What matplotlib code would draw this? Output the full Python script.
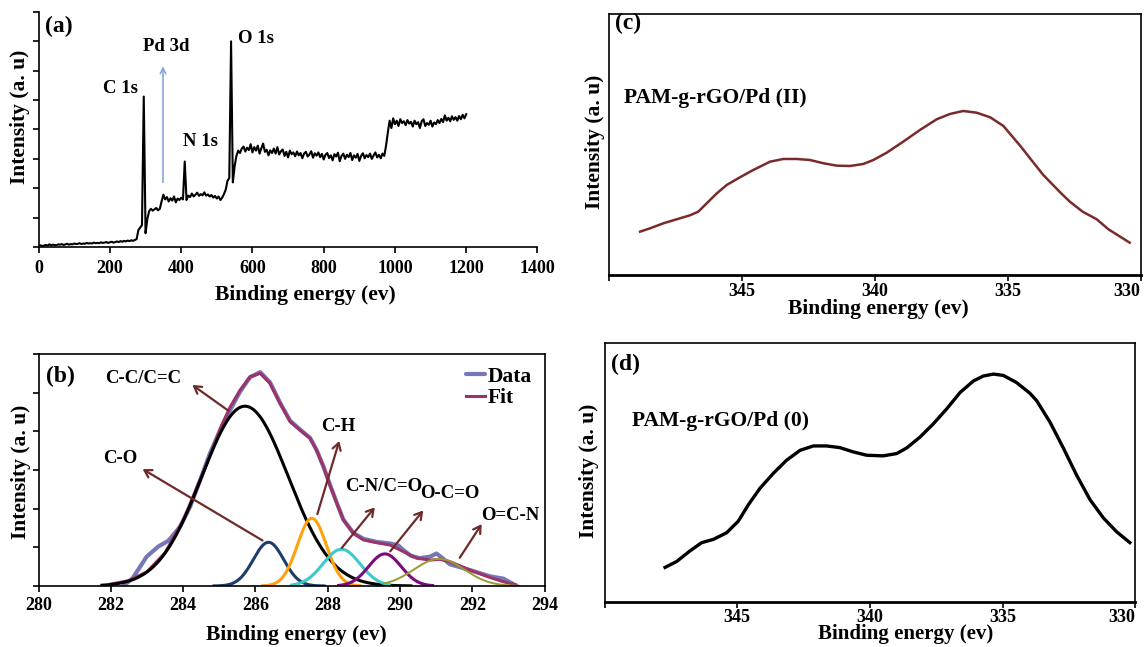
import numpy as np
import matplotlib
matplotlib.use("Agg")
import matplotlib.pyplot as plt

# ---------------- data ----------------
# (a) survey spectrum, 5 eV steps from 0 to 1200 eV (intensity in tick units)
survey_ev = np.arange(0, 1201, 5)
survey_int = [
    0.04, 0.06, 0.03, 0.05, 0.07, 0.05, 0.09, 0.06, 0.08, 0.07,
    0.06, 0.09, 0.08, 0.10, 0.07, 0.09, 0.11, 0.08, 0.10, 0.09,
    0.12, 0.10, 0.11, 0.13, 0.10, 0.12, 0.11, 0.14, 0.12, 0.13,
    0.12, 0.15, 0.13, 0.14, 0.13, 0.16, 0.14, 0.15, 0.17, 0.14,
    0.16, 0.18, 0.15, 0.17, 0.19, 0.17, 0.20, 0.18, 0.21, 0.19,
    0.22, 0.20, 0.23, 0.21, 0.24, 0.27, 0.58, 0.66, 0.75, 5.12,
    0.47, 0.95, 1.22, 1.30, 1.24, 1.28, 1.33, 1.25, 1.30, 1.55,
    1.78, 1.62, 1.70, 1.55, 1.66, 1.58, 1.72, 1.52, 1.65, 1.60,
    1.68, 1.62, 2.91, 1.60, 1.75, 1.70, 1.82, 1.72, 1.78, 1.85,
    1.74, 1.80, 1.76, 1.86, 1.75, 1.79, 1.72, 1.77, 1.68, 1.74,
    1.65, 1.72, 1.60, 1.68, 1.80, 1.95, 2.25, 2.35, 7.00, 2.20,
    2.75, 3.10, 3.28, 3.20, 3.35, 3.42, 3.25, 3.38, 3.30, 3.50,
    3.22, 3.40, 3.28, 3.45, 3.18, 3.36, 3.52, 3.24, 3.31, 3.12,
    3.29, 3.20, 3.35, 3.18, 3.40, 3.15, 3.26, 3.32, 3.10, 3.24,
    3.05, 3.28, 3.16, 3.22, 3.09, 3.25, 3.12, 3.20, 3.02, 3.18,
    3.24, 3.08, 3.15, 3.26, 3.04, 3.19, 3.11, 3.22, 3.06, 3.17,
    2.98, 3.14, 3.20, 3.03, 3.12, 2.95, 3.16, 3.08, 3.21, 2.92,
    3.10, 3.18, 3.00, 3.14, 3.06, 3.20, 2.96, 3.12, 3.04, 3.17,
    2.93, 3.10, 3.19, 3.02, 3.13, 3.06, 3.18, 3.00, 3.12, 3.22,
    3.05, 3.14, 3.02, 3.18, 3.10, 3.45, 3.90, 4.30, 4.05, 4.38,
    4.18, 4.30, 4.12, 4.35, 4.22, 4.28, 4.15, 4.32, 4.20, 4.26,
    4.10, 4.30, 4.18, 4.25, 4.05, 4.28, 4.35, 4.12, 4.22, 4.16,
    4.30, 4.10, 4.24, 4.18, 4.32, 4.22, 4.36, 4.25, 4.48, 4.30,
    4.40, 4.28, 4.45, 4.33, 4.42, 4.30, 4.46, 4.35, 4.50, 4.38,
    4.52,
]
survey_labels = ["C 1s", "Pd 3d", "N 1s", "O 1s"]
survey_label_ev = [231, 357, 455, 610]
survey_label_int = [5.39, 6.82, 3.58, 7.09]

# (b) C 1s high resolution: measured data and fit
c1s_data_ev = [282.34, 282.6, 282.99, 283.31, 283.59, 283.91, 284.19, 284.47, 284.74, 285.02,
               285.30, 285.57, 285.85, 286.13, 286.40, 286.68, 286.96, 287.23, 287.51, 287.69,
               287.88, 288.06, 288.25, 288.43, 288.71, 288.99, 289.35, 289.72, 289.95, 290.09,
               290.3, 290.55, 290.83, 291.01, 291.2, 291.38, 291.94, 292.49, 292.86, 293.23]
c1s_data = [0.0, 0.2, 0.76, 1.02, 1.17, 1.53, 2.05, 2.74, 3.43, 4.03,
            4.55, 5.02, 5.40, 5.53, 5.27, 4.74, 4.27, 4.05, 3.83, 3.52,
            3.09, 2.62, 2.15, 1.72, 1.37, 1.22, 1.14, 1.10, 1.05, 0.93,
            0.78, 0.72, 0.76, 0.84, 0.70, 0.56, 0.41, 0.25, 0.19, 0.0]
c1s_fit_ev = [282.0, 282.5, 283.0, 283.5, 284.0, 284.5, 284.8, 285.06, 285.30, 285.57,
              285.85, 286.13, 286.40, 286.68, 286.96, 287.23, 287.51, 287.69, 287.88, 288.06,
              288.25, 288.43, 288.71, 288.99, 289.35, 289.72, 290.09, 290.46, 290.83, 291.1,
              291.38, 291.94, 292.49, 292.86, 293.2]
c1s_fit = [0.05, 0.14, 0.37, 0.86, 1.70, 2.82, 3.50, 4.15, 4.63, 5.06,
           5.41, 5.50, 5.24, 4.72, 4.25, 4.03, 3.82, 3.51, 3.08, 2.61,
           2.14, 1.71, 1.36, 1.19, 1.12, 1.06, 0.89, 0.72, 0.67, 0.69,
           0.63, 0.41, 0.22, 0.11, 0.03]

# fitted components: centre, height, sigma, drawn range
comp_names = ["C-C/C=C", "C-O", "C-H", "C-N/C=O", "O-C=O", "O=C-N"]
comp_center = [285.71, 286.36, 287.56, 288.38, 289.58, 291.08]
comp_height = [4.65, 1.13, 1.75, 0.95, 0.83, 0.70]
comp_sigma = [1.20, 0.42, 0.40, 0.51, 0.45, 0.70]
comp_lo = [281.75, 284.85, 286.2, 287.0, 288.3, 289.55]
comp_hi = [290.3, 287.9, 288.9, 289.7, 290.9, 293.3]
comp_colors = ["black", "#1d3d6b", "#ffa10a", "#3cc9c9", "#7d0a7d", "#9a9a2e"]

# label text position and arrow (tail -> head)
comp_text_xy = [(282.89, 5.37), (282.25, 3.30), (288.29, 4.12),
                (289.54, 2.57), (291.38, 2.40), (293.04, 1.83)]
comp_arrow_tail = [(285.30, 4.50), (286.26, 1.14), (287.69, 1.79),
                   (288.34, 0.93), (289.68, 0.84), (291.61, 0.67)]
comp_arrow_head = [(284.19, 5.24), (282.81, 3.06), (288.34, 3.82),
                   (289.35, 2.09), (290.69, 2.01), (292.30, 1.66)]

# (c) Pd 3d, PAM-g-rGO/Pd (II)
pd2_ev = [348.83, 348.45, 347.95, 347.45, 346.95, 346.64, 346.32, 345.94, 345.57, 345.07,
          344.57, 343.94, 343.44, 342.94, 342.44, 341.93, 341.43, 340.93, 340.43, 340.05,
          339.55, 338.93, 338.30, 337.67, 337.17, 336.67, 336.17, 335.66, 335.16, 334.50,
          334.16, 333.66, 332.99, 332.66, 332.18, 331.65, 331.21, 330.41]
pd2_int = [43.3, 46.7, 51.7, 55.7, 59.7, 63.3, 71.7, 81.7, 90.0, 97.7,
           105.0, 113.3, 116.0, 116.0, 115.0, 111.7, 109.3, 109.0, 111.0, 115.0,
           122.3, 133.3, 145.0, 155.7, 161.0, 164.0, 162.3, 157.7, 149.0, 128.3,
           116.7, 100.0, 81.7, 73.3, 63.3, 55.7, 45.7, 32.3]

# (d) Pd 3d, PAM-g-rGO/Pd (0)
pd0_ev = [347.72, 347.28, 346.78, 346.34, 345.90, 345.40, 344.96, 344.58, 344.14, 343.64,
          343.14, 342.63, 342.13, 341.63, 341.13, 340.63, 340.12, 339.50, 338.99, 338.61,
          338.11, 337.61, 337.11, 336.60, 336.10, 335.73, 335.35, 334.97, 334.47, 333.97,
          333.71, 333.21, 332.71, 332.21, 331.70, 331.20, 330.70, 330.20]
pd0_int = [35.0, 41.0, 51.7, 60.0, 63.3, 70.0, 81.7, 98.3, 115.0, 130.0,
           143.3, 153.3, 157.7, 157.7, 156.0, 151.7, 148.3, 147.7, 150.0, 155.7,
           166.7, 180.0, 195.0, 211.7, 223.3, 228.3, 230.3, 229.0, 221.7, 211.0,
           203.3, 181.7, 155.7, 128.3, 103.3, 85.0, 71.0, 60.0]

pd_ticks = [350, 345, 340, 335, 330]
pd_ticklabels = ["", "345", "340", "335", "330"]

# ---------------- style ----------------
plt.rcParams["font.family"] = ["Liberation Serif", "DejaVu Serif"]
plt.rcParams["font.weight"] = "bold"
plt.rcParams["axes.labelweight"] = "bold"

LABEL_FS = 15.5
TICK_FS = 13
NOTE_FS = 13.5
PANEL_FS = 17
ARROW_COLOR = "#6e2a2a"

fig = plt.figure(figsize=(11.47, 6.47), dpi=100)


def style_axes(ax, pad):
    ax.tick_params(axis="both", direction="out", length=4, width=1.2,
                   labelsize=TICK_FS, pad=pad)
    for sp in ax.spines.values():
        sp.set_linewidth(1.2)
    ax.xaxis.label.set_va("center")
    ax.yaxis.label.set_va("center")


# ---------------- (a) survey ----------------
ax_a = fig.add_axes([0.0337, 0.6182, 0.4349, 0.3633])
ax_a.plot(survey_ev, survey_int, color="black", lw=1.5)
ax_a.set_xlim(0, 1400)
ax_a.set_ylim(0, 8)
ax_a.set_xticks(np.arange(0, 1401, 200))
ax_a.set_yticks(np.arange(0, 8.01, 1))
ax_a.set_yticklabels([])
ax_a.spines["top"].set_visible(False)
ax_a.spines["right"].set_visible(False)
ax_a.set_xlabel("Binding energy (ev)", fontsize=LABEL_FS)
ax_a.set_ylabel("Intensity (a. u)", fontsize=LABEL_FS)
style_axes(ax_a, pad=5)
ax_a.xaxis.set_label_coords(0.534, -0.204)
ax_a.yaxis.set_label_coords(-0.037, 0.553)
for lab, xv, yv in zip(survey_labels, survey_label_ev, survey_label_int):
    ax_a.text(xv, yv, lab, fontsize=NOTE_FS, ha="center", va="center")
ax_a.annotate("", xy=(349, 6.24), xytext=(349, 2.1),
              arrowprops=dict(arrowstyle="->", color="#7aa3d6", lw=1.1))
ax_a.text(0.012, 0.94, "(a)", transform=ax_a.transAxes, fontsize=PANEL_FS,
          ha="left", va="center")

# ---------------- (b) C 1s ----------------
ax_b = fig.add_axes([0.0337, 0.0943, 0.4411, 0.3586])
ax_b.plot(c1s_data_ev, c1s_data, color="#7777b8", lw=3.0, label="Data",
          solid_capstyle="round")
ax_b.plot(c1s_fit_ev, c1s_fit, color="#9b3468", lw=2.2, label="Fit")
for c, h, s, lo, hi, col in zip(comp_center, comp_height, comp_sigma,
                                comp_lo, comp_hi, comp_colors):
    xs = np.linspace(lo, hi, 300)
    lw = 2.2 if col != "#9a9a2e" else 1.4
    ax_b.plot(xs, h * np.exp(-(xs - c) ** 2 / (2 * s ** 2)), color=col, lw=lw)
for name, txy, tail, head in zip(comp_names, comp_text_xy,
                                 comp_arrow_tail, comp_arrow_head):
    ax_b.text(txy[0], txy[1], name, fontsize=NOTE_FS, ha="center", va="center")
    ax_b.annotate("", xy=head, xytext=tail,
                  arrowprops=dict(arrowstyle="->,head_length=0.5,head_width=0.3",
                                  color=ARROW_COLOR, lw=1.6))
ax_b.set_xlim(280, 294)
ax_b.set_ylim(0, 6)
ax_b.set_xticks(np.arange(280, 295, 2))
ax_b.set_yticks(np.arange(0, 6.01, 1))
ax_b.set_yticklabels([])
ax_b.set_xlabel("Binding energy (ev)", fontsize=LABEL_FS)
ax_b.set_ylabel("Intensity (a. u)", fontsize=LABEL_FS)
style_axes(ax_b, pad=4)
ax_b.xaxis.set_label_coords(0.509, -0.211)
ax_b.yaxis.set_label_coords(-0.034, 0.49)
ax_b.text(0.015, 0.905, "(b)", transform=ax_b.transAxes, fontsize=PANEL_FS,
          ha="left", va="center")
ax_b.legend(loc="upper right", frameon=False,
            handlelength=0.9, handletextpad=0.1, labelspacing=0.05,
            borderaxespad=0.2, prop={"weight": "bold", "size": LABEL_FS})

# ---------------- (c) Pd(II) ----------------
ax_c = fig.add_axes([0.5309, 0.5750, 0.4635, 0.4034])
ax_c.plot(pd2_ev, pd2_int, color="#7a2a2a", lw=1.8)
ax_c.set_xlim(350, 330)
ax_c.set_ylim(0, 261)
ax_c.set_xticks(pd_ticks)
ax_c.set_xticklabels(pd_ticklabels)
ax_c.set_yticks([])
ax_c.set_xlabel("Binding energy (ev)", fontsize=LABEL_FS)
ax_c.set_ylabel("Intensity (a. u)", fontsize=LABEL_FS)
style_axes(ax_c, pad=2)
ax_c.spines["bottom"].set_linewidth(2)
ax_c.get_xticklabels()[-1].set_ha("right")
ax_c.xaxis.set_label_coords(0.506, -0.132)
ax_c.yaxis.set_label_coords(-0.027, 0.51)
ax_c.text(349.79, 251.7, "(c)", fontsize=PANEL_FS, ha="left", va="center")
ax_c.text(349.45, 176.7, "PAM-g-rGO/Pd (II)", fontsize=15.5,
          ha="left", va="center")

# ---------------- (d) Pd(0) ----------------
ax_d = fig.add_axes([0.5271, 0.0695, 0.4626, 0.4008])
ax_d.plot(pd0_ev, pd0_int, color="black", lw=2.4)
ax_d.set_xlim(350, 330)
ax_d.set_ylim(0, 262)
ax_d.set_xticks(pd_ticks)
ax_d.set_xticklabels(pd_ticklabels)
ax_d.set_yticks([])
ax_d.set_xlabel("Binding energy (ev)", fontsize=15)
ax_d.set_ylabel("Intensity (a. u)", fontsize=LABEL_FS)
style_axes(ax_d, pad=1)
ax_d.spines["bottom"].set_linewidth(2)
ax_d.get_xticklabels()[-1].set_ha("right")
ax_d.xaxis.set_label_coords(0.568, -0.124)
ax_d.yaxis.set_label_coords(-0.029, 0.505)
ax_d.text(349.77, 240, "(d)", fontsize=PANEL_FS, ha="left", va="center")
ax_d.text(348.95, 183.3, "PAM-g-rGO/Pd (0)", fontsize=15.5,
          ha="left", va="center")

fig.savefig("out.png", dpi=100)
